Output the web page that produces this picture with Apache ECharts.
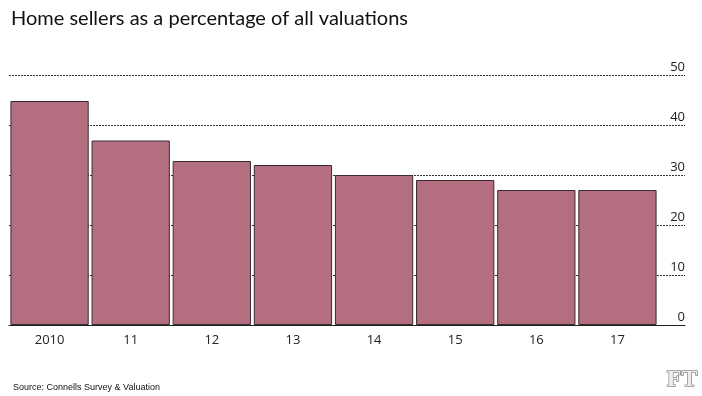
<!DOCTYPE html>
<html>
<head>
<meta charset="utf-8">
<style>
  html, body { margin: 0; padding: 0; background: #fff; }
  #chart { width: 702px; height: 396px; }
</style>
<script src="https://cdn.jsdelivr.net/npm/echarts@6/dist/echarts.min.js"></script>
</head>
<body>
<div id="chart"></div>
<script>
// years along the bottom
const years = ['2010', '11', '12', '13', '14', '15', '16', '17']
// home sellers, % of all valuations
const sellerShare = [44.8, 36.9, 32.8, 32, 30, 29, 27, 27]
const yTicks = [0, 10, 20, 30, 40, 50]

const chart = echarts.init(document.getElementById('chart'))
chart.setOption({
  animation: false,
  textStyle: { fontFamily: 'Open Sans' },
  title: [
    {
      text: 'Home sellers as a percentage of all valuations',
      left: 6,
      top: 4,
      textStyle: { fontFamily: 'Lato', fontSize: 20, fontWeight: 'normal', color: '#111' }
    },
    {
      text: 'Source: Connells Survey & Valuation',
      left: 8,
      top: 378,
      textStyle: { fontFamily: 'Liberation Sans', fontSize: 9, fontWeight: 'normal', color: '#111' }
    }
  ],
  graphic: [
    {
      type: 'text',
      right: 4,
      top: 367,
      style: {
        text: 'FT',
        font: 'bold 24px "Liberation Serif"',
        fill: '#eeeeee',
        stroke: '#555',
        lineWidth: 1
      }
    }
  ],
  grid: [
    // bars
    { left: 9, right: 44, top: 75, bottom: 71 },
    // gridlines and labels, wider than the bars
    { left: 9, right: 17, top: 75, bottom: 71 }
  ],
  xAxis: [
    {
      type: 'category',
      gridIndex: 0,
      data: years,
      axisLine: { show: false },
      axisTick: { show: false },
      axisLabel: { color: '#222', fontSize: 13, margin: 9 }
    },
    {
      type: 'value',
      gridIndex: 1,
      min: 0,
      max: 1,
      axisLine: { show: true, lineStyle: { color: '#222', width: 1 } },
      axisTick: { show: false },
      axisLabel: { show: false },
      splitLine: { show: false }
    }
  ],
  yAxis: [
    {
      type: 'value',
      gridIndex: 0,
      min: 0,
      max: 50,
      interval: 10,
      show: false
    },
    {
      type: 'value',
      gridIndex: 1,
      position: 'right',
      min: yTicks[0],
      max: yTicks[yTicks.length - 1],
      interval: 10,
      axisLine: { show: false },
      axisTick: { show: false },
      axisLabel: {
        inside: true,
        verticalAlign: 'bottom',
        align: 'right',
        margin: 0,
        padding: [0, 0, 1, 0],
        color: '#222',
        fontSize: 13
      },
      splitLine: { show: true, lineStyle: { color: '#333', type: [2, 1], width: 1 } }
    }
  ],
  series: [
    {
      type: 'bar',
      xAxisIndex: 0,
      yAxisIndex: 0,
      data: sellerShare,
      barCategoryGap: '3.5%',
      itemStyle: { color: '#b36e80', borderColor: '#3d2a31', borderWidth: 1 },
      z: 3
    }
  ]
})
</script>
</body>
</html>
